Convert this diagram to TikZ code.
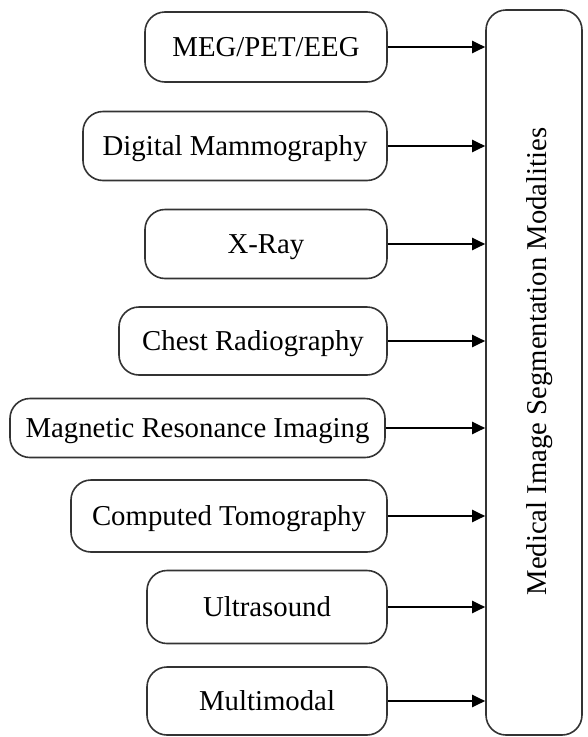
\documentclass[tikz,border=0pt]{standalone}
\usepackage{fontspec}
\setmainfont{Liberation Serif}
\usetikzlibrary{arrows.meta}
\begin{document}
\begin{tikzpicture}[x=1pt, y=-1pt,
  modbox/.style={draw=black!80, line width=1.6pt, rounded corners=20pt, inner sep=0pt,
    font=\fontsize{28.8}{34}\selectfont, text height=19pt, text depth=0pt, align=center},
  target/.style={draw=black!80, line width=1.6pt, rounded corners=20pt, inner sep=0pt},
  vlabel/.style={font=\fontsize{28.7}{34}\selectfont, rotate=90, inner sep=0pt,
    text height=19pt, text depth=0pt},
  feed/.style={line width=2pt, -{Triangle[length=13pt, width=12pt]}}]
  % page and background
  \fill[white] (0,0) rectangle (587,737);
  \useasboundingbox (0,0) rectangle (587,737);

  % modality boxes: centre at ((l+r)/2,(t+b)/2), size (r-l) x (b-t)
  \node[modbox, minimum width=242pt, minimum height=70pt] (meg) at (266,47)    {MEG/PET/EEG};
  \node[modbox, minimum width=304pt, minimum height=69pt] (mam) at (235,146)   {Digital Mammography};
  \node[modbox, minimum width=242pt, minimum height=69pt] (xr)  at (266,244)   {X-Ray};
  \node[modbox, minimum width=268pt, minimum height=68pt] (cr)  at (253,341)   {Chest Radiography};
  \node[modbox, minimum width=375pt, minimum height=59pt] (mri) at (197.5,428) {Magnetic Resonance Imaging};
  \node[modbox, minimum width=316pt, minimum height=72pt] (ct)  at (229,516)   {Computed Tomography};
  \node[modbox, minimum width=240pt, minimum height=73pt] (us)  at (267,607)   {Ultrasound};
  \node[modbox, minimum width=240pt, minimum height=68pt] (mm)  at (267,701)   {Multimodal};

  % collecting box with its vertical title
  \node[target, minimum width=96pt, minimum height=725pt] (seg) at (534,372.5) {};
  \node[vlabel] (segtxt) at (537,361.5) {Medical Image Segmentation Modalities};

  % arrows into the collecting box
  \foreach \n in {meg,mam,xr,cr,mri,ct,us,mm}
    \draw[feed] (\n.east) -- (seg.west |- \n.east);
\end{tikzpicture}
\end{document}
